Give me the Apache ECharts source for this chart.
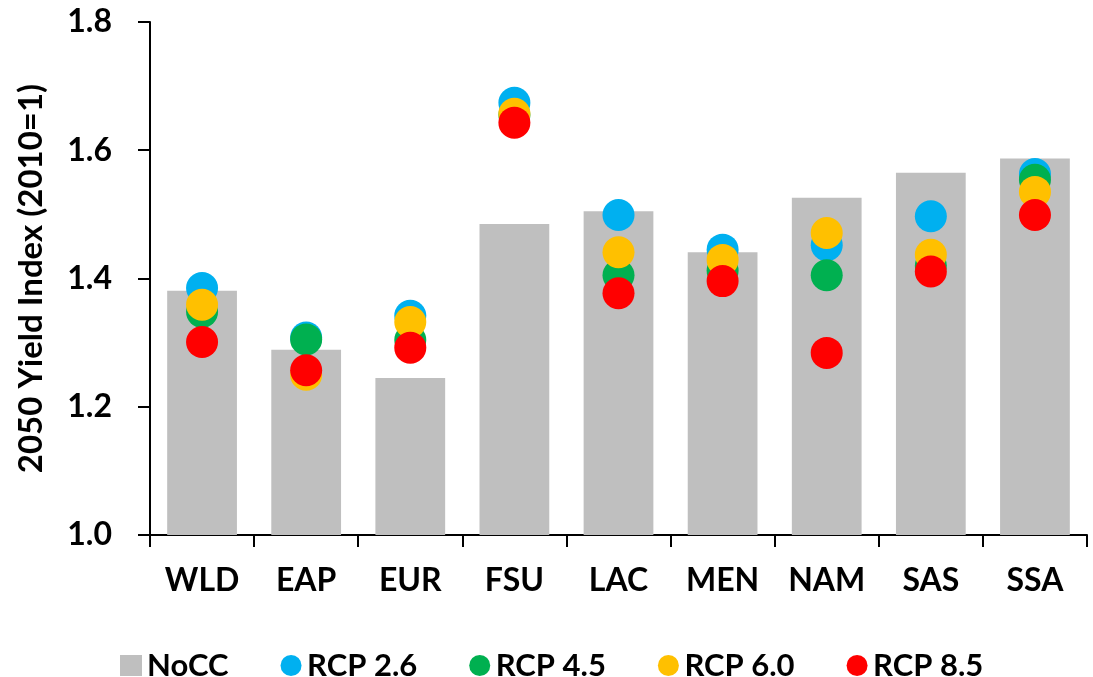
<!DOCTYPE html>
<html>
<head>
<meta charset="utf-8">
<script src="https://cdn.jsdelivr.net/npm/echarts@6/dist/echarts.min.js"></script>
<style>html,body{margin:0;padding:0;background:#fff}#c{width:1093px;height:677px}</style>
</head>
<body>
<div id="c"></div>
<script>
const categories = ['WLD','EAP','EUR','FSU','LAC','MEN','NAM','SAS','SSA'];
const nocc   = [1.381,1.289,1.245,1.485,1.505,1.441,1.526,1.565,1.587];
const rcp26  = [1.385,1.308,1.342,1.674,1.499,1.445,1.452,1.497,1.563];
const rcp45  = [1.348,1.305,1.304,1.655,1.405,1.412,1.405,1.420,1.554];
const rcp60  = [1.359,1.250,1.332,1.657,1.441,1.429,1.471,1.437,1.535];
const rcp85  = [1.301,1.257,1.292,1.643,1.377,1.396,1.284,1.411,1.499];
const yTicks = [1.0,1.2,1.4,1.6,1.8];

const FONT = 'Lato';
const chart = echarts.init(document.getElementById('c'));
function dot(name, data, color){
  return {name, type:'scatter', data, symbol:'circle', symbolSize:32,
    itemStyle:{color, opacity:1}, z:3};
}
chart.setOption({
  animation:false,
  grid:{left:150, right:6, top:22, bottom:142, containLabel:false},
  legend:{
    top:645, left:115, itemGap:52, itemWidth:22, itemHeight:21,
    textStyle:{fontFamily:FONT, fontWeight:'bold', fontSize:31, color:'#000'},
    data:[{name:'NoCC', icon:'rect'},{name:'RCP 2.6', icon:'circle'},{name:'RCP 4.5', icon:'circle'},{name:'RCP 6.0', icon:'circle'},{name:'RCP 8.5', icon:'circle'}]
  },
  xAxis:{
    type:'category', data:categories,
    axisLine:{lineStyle:{color:'#000', width:2}},
    axisTick:{show:true, alignWithLabel:false, length:12, lineStyle:{color:'#000', width:2}},
    axisLabel:{fontFamily:FONT, fontWeight:'bold', fontSize:32, color:'#000', margin:30}
  },
  yAxis:{
    type:'value', min:1.0, max:1.8, interval:0.2,
    name:'2050 Yield Index (2010=1)', nameLocation:'middle', nameGap:102,
    nameTextStyle:{fontFamily:FONT, fontWeight:'bold', fontSize:33, color:'#000'},
    axisLine:{show:true, lineStyle:{color:'#000', width:2}},
    axisTick:{show:true, length:12, lineStyle:{color:'#000', width:2}},
    splitLine:{show:false},
    axisLabel:{fontFamily:FONT, fontWeight:'bold', fontSize:32, color:'#000', margin:38,
      formatter:v=>{const t=yTicks.find(x=>Math.abs(x-v)<1e-9);return (t!==undefined?t:v).toFixed(1);}}
  },
  series:[
    {name:'NoCC', type:'bar', data:nocc, barWidth:'67%', itemStyle:{color:'#bfbfbf'}, z:2},
    dot('RCP 2.6', rcp26, '#00b0f0'),
    dot('RCP 4.5', rcp45, '#00b050'),
    dot('RCP 6.0', rcp60, '#ffc000'),
    dot('RCP 8.5', rcp85, '#ff0000')
  ]
});
</script>
</body>
</html>
